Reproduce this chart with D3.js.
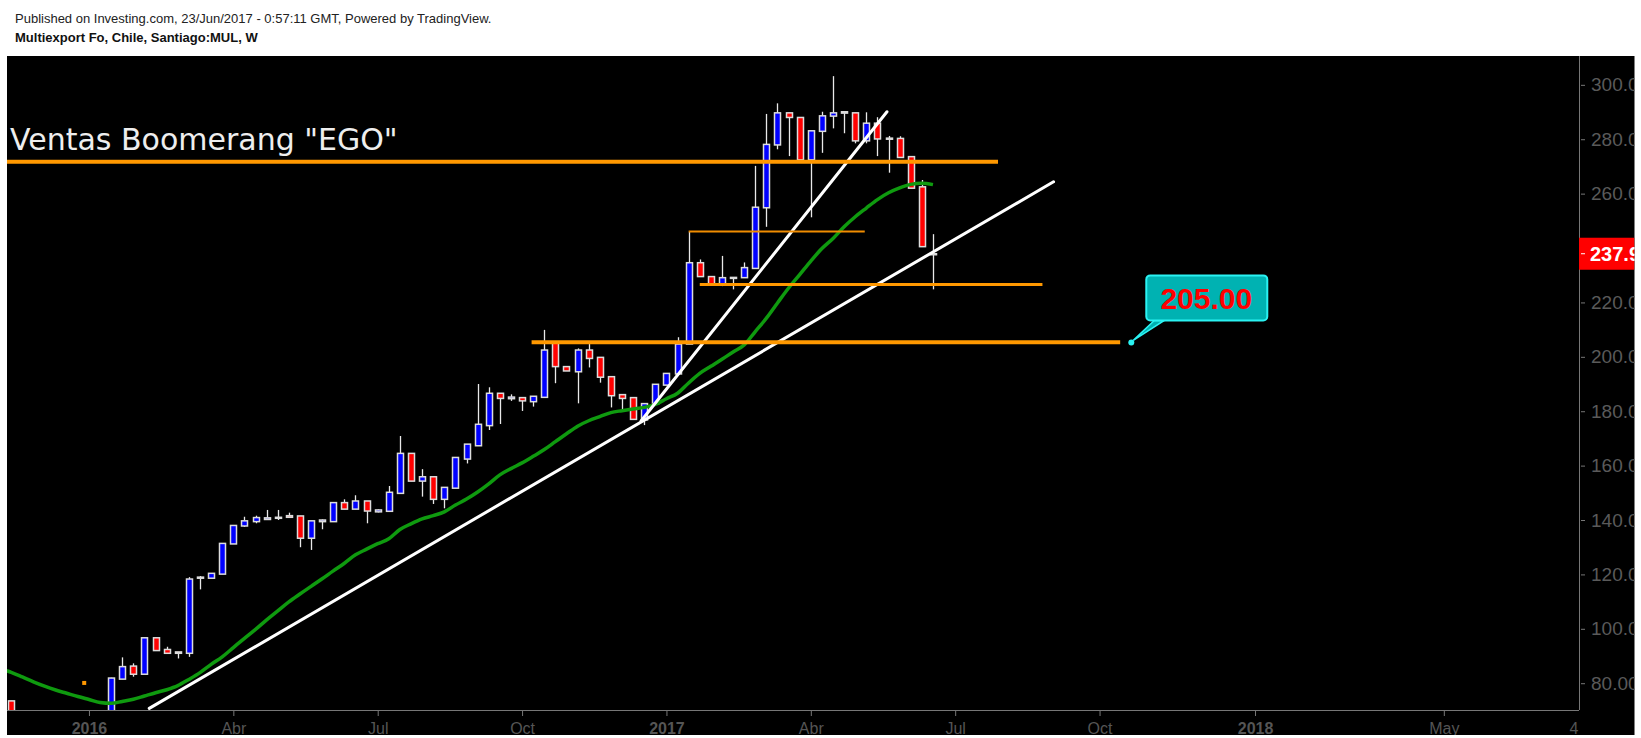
<!DOCTYPE html>
<html><head><meta charset="utf-8">
<script src="https://cdn.jsdelivr.net/npm/d3@7"></script>
<style>html,body{margin:0;padding:0;background:#fff;overflow:hidden}</style>
</head><body><svg id="c" width="1641" height="738"></svg>
<script>
// ---------- data ----------
const weekDates = ["2015-11-16","2016-01-18","2016-01-25","2016-02-01","2016-02-08","2016-02-15","2016-02-22","2016-02-29","2016-03-07","2016-03-14","2016-03-21","2016-03-28","2016-04-04","2016-04-11","2016-04-18","2016-04-25","2016-05-02","2016-05-09","2016-05-16","2016-05-23","2016-05-30","2016-06-06","2016-06-13","2016-06-20","2016-06-27","2016-07-04","2016-07-11","2016-07-18","2016-07-25","2016-08-01","2016-08-08","2016-08-15","2016-08-22","2016-08-29","2016-09-05","2016-09-12","2016-09-19","2016-09-26","2016-10-03","2016-10-10","2016-10-17","2016-10-24","2016-10-31","2016-11-07","2016-11-14","2016-11-21","2016-11-28","2016-12-05","2016-12-12","2016-12-19","2016-12-26","2017-01-02","2017-01-09","2017-01-16","2017-01-23","2017-01-30","2017-02-06","2017-02-13","2017-02-20","2017-02-27","2017-03-06","2017-03-13","2017-03-20","2017-03-27","2017-04-03","2017-04-10","2017-04-17","2017-04-24","2017-05-01","2017-05-08","2017-05-15","2017-05-22","2017-05-29","2017-06-05","2017-06-12","2017-06-19"];
const opens  = [73.5,68,81.5,86.3,83.3,96.7,92.4,91.5,91.0,118.6,118.6,120.1,131.2,137.8,139.4,140.2,141.0,141.6,141.5,133.3,139.4,139.4,146.4,144.0,147.0,143.0,143.2,149.8,164.5,154.3,155.9,147.6,151.7,162.4,167.3,174.7,186.6,184.6,185.0,183.5,185.1,205.0,196.4,194.5,202.5,199.8,192.7,186.1,185.0,176.8,182.6,189.6,193.7,204.7,234.6,229.5,226.4,229.0,229.1,232.5,254.8,277.9,289.7,288.0,272.4,282.9,288.5,289.6,289.7,279.4,285.9,280.4,280.3,273.6,262.5,237.9];
const highs  = [73.5,82.0,89.5,87.3,96.7,96.7,93.4,91.5,119.0,119.4,120.4,131.4,138.0,141.2,141.6,143.7,143.7,142.7,141.5,139.7,140.2,146.4,147.6,149.1,147.0,143.9,152.5,170.9,164.5,158.7,155.9,152.0,163.0,167.9,190.0,188.8,186.6,186.2,185.0,185.5,209.9,205.0,196.4,203.1,204.7,199.8,192.7,186.1,185.0,182.8,189.9,193.9,207.2,246.0,235.8,229.5,237.1,229.3,234.7,270.2,289.3,293.2,289.7,288.0,283.1,290.1,303.2,290.2,289.7,289.9,288.1,281.2,281.1,273.6,265.0,245.1];
const lows   = [68.0,66.0,81.5,82.4,83.3,92.0,91.0,89.1,89.7,114.5,118.6,120.1,131.2,137.5,138.8,140.0,140.0,141.0,130.0,129.0,136.6,139.4,144.0,144.0,138.8,142.8,143.2,149.8,154.3,148.6,145.9,144.3,151.7,160.8,167.3,173.1,175.3,183.8,180.1,181.7,185.1,190.3,194.8,182.9,196.1,190.5,181.4,179.8,177.0,174.9,182.6,189.6,193.7,204.7,229.5,226.4,226.0,224.8,229.1,232.5,247.8,276.3,273.8,272.4,251.3,275.0,284.0,282.2,278.5,278.5,273.8,267.7,273.3,262.0,240.5,224.8];
const closes = [69.0,81.9,86.1,83.3,96.7,92.0,91.0,91.0,118.3,119.0,120.4,131.4,138.0,139.7,140.9,140.8,141.0,141.0,133.3,139.7,140.0,146.4,144.0,147.0,143.3,143.7,150.2,164.5,154.3,155.9,147.6,152.0,163.0,167.9,175.2,186.6,184.7,185.2,183.8,185.5,202.5,196.4,194.8,202.5,199.4,192.5,185.7,184.7,177.0,182.8,189.9,193.9,204.7,234.6,229.5,226.4,229.1,229.2,232.8,255.0,278.1,289.7,288.0,272.4,283.1,288.6,289.7,290.1,279.4,285.9,280.1,280.0,273.3,262.0,240.5,237.9];

// moving average (green), one value per week starting 2015-11-09
const maStart = "2015-11-09";
const maValues = [85.3,84.0,82.3,80.5,78.9,77.5,76.3,75.1,74.0,72.9,72.6,73.3,74.1,75.3,76.5,77.6,79.1,81.4,83.9,86.9,89.7,93.1,96.5,99.8,103.3,106.6,109.9,112.8,115.6,118.4,121.3,124.1,127.2,129.3,131.3,133.1,136.5,138.6,140.4,141.6,143.0,145.5,147.7,150.3,153.3,156.6,158.9,161.0,163.4,165.9,168.8,171.7,174.5,176.5,178.0,179.5,180.2,180.8,181.4,182.5,184.6,186.6,190.4,193.9,196.5,199.1,201.8,204.4,209.3,214.2,219.8,225.3,230.2,235.2,239.8,243.5,247.8,251.5,254.7,257.8,260.3,262.1,263.4,263.8,263.3];

// drawings
const trendStartDates = ["2016-02-11","2016-12-17"];
const trendStartValues = [70.74,176.4];
const trendEndDates = ["2017-09-03","2017-05-21"];
const trendEndValues = [264.34,290.1];

const levelValues = [271.7,246.1,226.6,205.4];
const levelStartDates = ["2015-11-01","2017-01-16","2017-01-23","2016-10-09"];
const levelEndDates = ["2017-07-30","2017-05-07","2017-08-27","2017-10-15"];
const levelWidths = [4,2,3,4];

const calloutDate = "2017-10-22";
const calloutValue = 205.3;
const calloutText = "205.00";
const lastPrice = 237.9;
const lastPriceText = "237.90";

// axes
const xTickDates = ["2016-01-04","2016-04-04","2016-07-04","2016-10-03","2017-01-02","2017-04-03","2017-07-03","2017-10-02","2018-01-08","2018-05-07"];
const xTickLabels = ["2016","Abr","Jul","Oct","2017","Abr","Jul","Oct","2018","May"];
const yTicks = [80,100,120,140,160,180,200,220,260,280,300];

// ---------- drawing ----------
const parse = d3.utcParse("%Y-%m-%d");
const svg = d3.select("#c");
const L = 7, R = 1579, T = 56, B = 710, PANEL_R = 1634.5, PANEL_B = 735;
const FONT = "Liberation Sans, Arial, sans-serif";

svg.append("rect").attr("width",1641).attr("height",738).attr("fill","#fff");
svg.append("text").attr("x",15).attr("y",23).attr("font-family",FONT)
  .attr("font-size",13).attr("fill","#222").text("Published on Investing.com, 23/Jun/2017 - 0:57:11 GMT, Powered by TradingView.");
svg.append("text").attr("x",15).attr("y",42).attr("font-family",FONT)
  .attr("font-size",13).attr("font-weight","bold").attr("fill","#111").text("Multiexport Fo, Chile, Santiago:MUL, W");

svg.append("rect").attr("x",L).attr("y",T).attr("width",PANEL_R-L).attr("height",PANEL_B-T).attr("fill","#000");

const defs = svg.append("defs");
defs.append("clipPath").attr("id","plot").append("rect").attr("x",L).attr("y",T).attr("width",R-L).attr("height",B-T);
defs.append("clipPath").attr("id","panel").append("rect").attr("x",L).attr("y",T).attr("width",PANEL_R-L).attr("height",PANEL_B-T);

const x = d3.scaleUtc().domain([new Date(Date.UTC(2015,10,13,8)), new Date(Date.UTC(2018,6,31,5))]).range([L,R]);
const y = d3.scaleLinear().domain([70.15,310.6]).range([B,T]);

const candles = weekDates.map((d,i)=>({d:parse(d),o:opens[i],h:highs[i],l:lows[i],c:closes[i]}));

const plot = svg.append("g").attr("clip-path","url(#plot)");

// candles
const cg = plot.append("g");
cg.selectAll("line.wick").data(candles).join("line").attr("class","wick")
  .attr("x1",d=>Math.round(x(d.d))+0.5).attr("x2",d=>Math.round(x(d.d))+0.5)
  .attr("y1",d=>y(d.h)).attr("y2",d=>y(d.l)).attr("stroke","#e8e8e8").attr("stroke-width",1.3);
const bw = 6;
cg.selectAll("rect.body").data(candles).join("rect").attr("class","body")
  .attr("x",d=>Math.round(x(d.d))+0.5-bw/2).attr("width",bw)
  .attr("y",d=>y(Math.max(d.o,d.c)))
  .attr("height",d=>Math.max(1,Math.abs(y(d.o)-y(d.c))))
  .attr("fill",d=>d.c>=d.o?"#0000ff":"#ff0000")
  .attr("stroke","#dcdcdc").attr("stroke-width",1.5);

// moving average
const ma = maValues.map((v,i)=>({d:d3.utcDay.offset(parse(maStart),7*i),v}));
plot.append("path").datum(ma)
  .attr("d",d3.line().x(d=>x(d.d)).y(d=>y(d.v)).curve(d3.curveMonotoneX))
  .attr("fill","none").attr("stroke","#0f9a0f").attr("stroke-width",3.5).attr("stroke-linejoin","round");

// small orange mark
plot.append("rect").attr("x",x(parse("2016-01-01"))-2).attr("y",y(80.1)-2).attr("width",4).attr("height",4).attr("fill","#ff9800");

// trend lines
trendStartDates.forEach((s,i)=>{
  plot.append("line").attr("x1",x(parse(s))).attr("y1",y(trendStartValues[i]))
    .attr("x2",x(parse(trendEndDates[i]))).attr("y2",y(trendEndValues[i]))
    .attr("stroke","#fff").attr("stroke-width",3).attr("stroke-linecap","round");
});

// horizontal levels
levelValues.forEach((v,i)=>{
  plot.append("line").attr("x1",x(parse(levelStartDates[i]))).attr("x2",x(parse(levelEndDates[i])))
    .attr("y1",y(v)).attr("y2",y(v)).attr("stroke",i===1?"#f08c00":"#ff9800").attr("stroke-width",levelWidths[i]);
});

// callout
const cx = x(parse(calloutDate)), cy = y(calloutValue);
const co = plot.append("g");
co.append("polygon").attr("points",[[cx+2,cy-2],[cx+23,cy-22],[cx+33,cy-22]].map(p=>p.join(",")).join(" "))
  .attr("fill","#00b0b0").attr("stroke","#2af2f2").attr("stroke-width",1.5);
co.append("rect").attr("x",cx+15).attr("y",cy-67).attr("width",121).attr("height",45).attr("rx",4)
  .attr("fill","#00b2b2").attr("stroke","#2af2f2").attr("stroke-width",2);
co.append("circle").attr("cx",cx).attr("cy",cy).attr("r",3).attr("fill","#2af2f2");
co.append("text").attr("x",cx+75).attr("y",cy-33).attr("text-anchor","middle")
  .attr("font-family",FONT).attr("font-weight","bold").attr("font-size",30)
  .attr("fill","#ff0000").text(calloutText);

// title text
plot.append("text").attr("x",10).attr("y",150).attr("font-family","DejaVu Sans, Verdana, sans-serif")
  .attr("font-size",30).attr("fill","#eeeeee").text('Ventas Boomerang "EGO"');

// axes
const panel = svg.append("g").attr("clip-path","url(#panel)");
const xa = panel.append("g").attr("transform",`translate(0,${B})`)
  .call(d3.axisBottom(x).tickValues(xTickDates.map(parse)).tickFormat((d,i)=>xTickLabels[i]).tickSize(6).tickPadding(7).tickSizeOuter(0));
xa.select(".domain").attr("stroke","#777").attr("d",`M${L},0.5H${R}`);
xa.selectAll(".tick line").attr("stroke","#777");
xa.selectAll(".tick text").attr("fill","#555").attr("font-size",16)
  .attr("font-family",FONT)
  .attr("font-weight",(d,i)=>/^\d{4}$/.test(xTickLabels[i])?"bold":"normal");
panel.append("text").attr("x",1574).attr("y",B+13).attr("dy","0.71em").attr("text-anchor","middle")
  .attr("fill","#555").attr("font-size",16).attr("font-family",FONT).text("4");

const ya = panel.append("g").attr("transform",`translate(${R},0)`)
  .call(d3.axisRight(y).tickValues(yTicks).tickFormat(d3.format(".2f")).tickSize(6).tickPadding(6).tickSizeOuter(0));
ya.select(".domain").attr("stroke","#777").attr("d",`M0.5,${T}V${B}`);
ya.selectAll(".tick line").attr("stroke","#777").attr("x1",2);
ya.selectAll(".tick text").attr("fill","#5a5a5a").attr("font-size",19).attr("font-family",FONT);

// last price label
const py = y(lastPrice);
panel.append("rect").attr("x",R).attr("y",py-16).attr("width",PANEL_R-R).attr("height",32).attr("fill","#ff0000");
panel.append("line").attr("x1",R+2).attr("x2",R+6).attr("y1",py).attr("y2",py).attr("stroke","#fff");
panel.append("text").attr("x",R+11).attr("y",py).attr("dy","0.36em").attr("fill","#fff").attr("font-weight","bold")
  .attr("font-size",20).attr("font-family",FONT).text(lastPriceText);
</script></body></html>
